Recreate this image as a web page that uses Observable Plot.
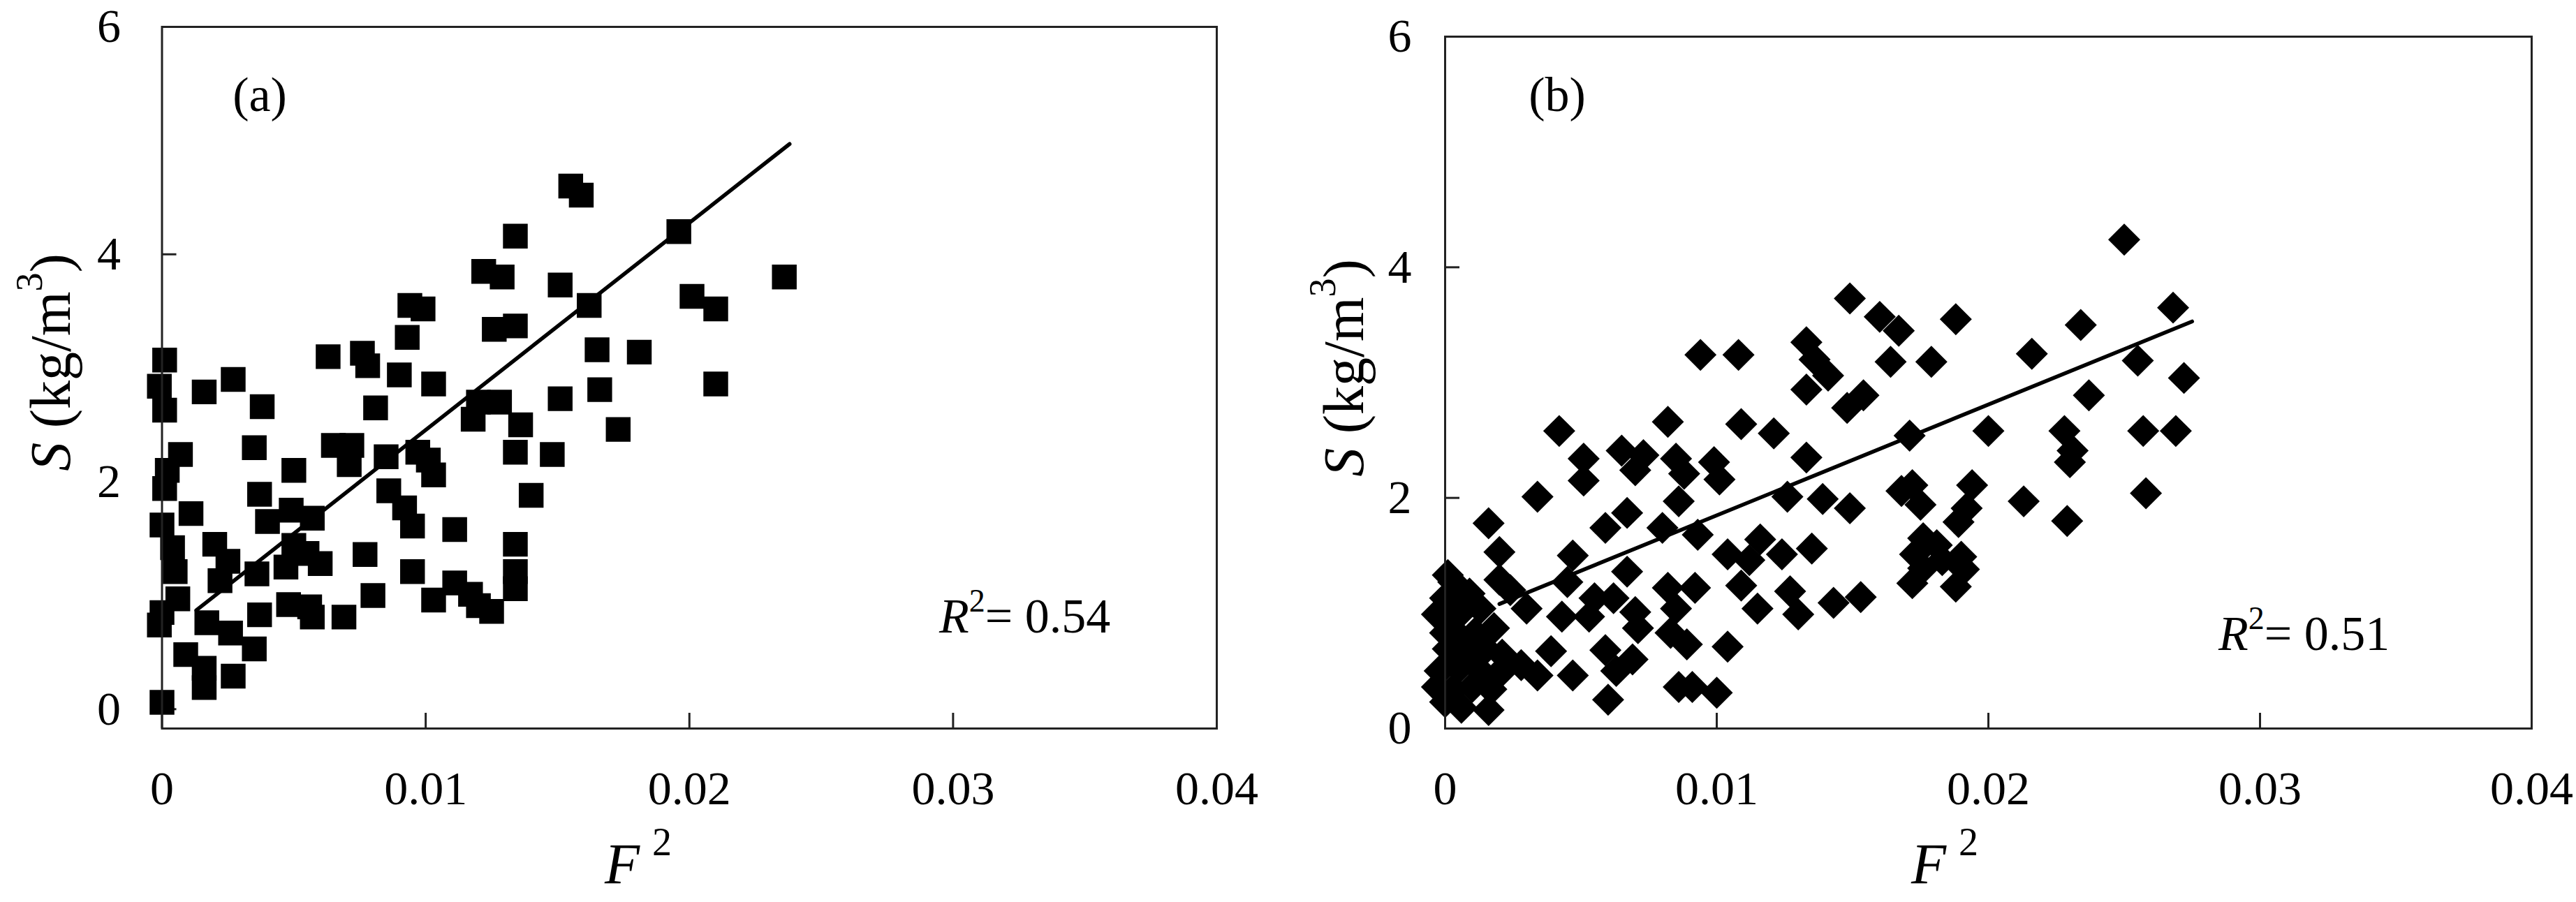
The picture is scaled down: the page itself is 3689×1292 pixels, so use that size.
<!DOCTYPE html>
<html><head><meta charset="utf-8">
<script src="https://cdn.jsdelivr.net/npm/d3@7"></script>
<script src="https://cdn.jsdelivr.net/npm/@observablehq/plot@0.6"></script>
<style>
html,body{margin:0;padding:0;background:#fff;}
#wrap{position:relative;width:3689px;height:1292px;background:#fff;}
#pa{position:absolute;left:0;top:0;}
#pb{position:absolute;left:1845px;top:0;}
svg text{font-family:"Liberation Serif","Times New Roman",serif;}
</style></head><body><div id="wrap"><div id="pa"></div><div id="pb"></div></div>
<script>
// ---------- data ----------
const xTicks = [0, 0.01, 0.02, 0.03, 0.04];
const yTicks = [0, 2, 4, 6];

// Panel (a): squares
const aF2 = [0.0001,-0.0001,0.0001,0.0016,0.0027,0.0038,0.0035,0.0050,0.0063,0.0076,
  0.0078,0.0090,0.0081,0.0094,0.0093,0.0065,0.0072,0.0071,0.0085,0.0086,
  0.0092,0.0097,0.0007,0.0002,0.0001,0.0037,0.0011,0.0000,0.0004,0.0005,
  0.0020,0.0025,0.0022,0.0049,0.0040,0.0057,0.0050,0.0055,0.0060,0.0036,
  0.0047,0.0077,0.0080,0.0095,0.0095,0.0006,0.0000,-0.0001,0.0017,0.0026,
  0.0035,0.0009,0.0016,0.0027,0.0016,0.0037,0.0048,0.0056,0.0057,0.0069,
  0.0000,0.0099,0.0103,0.0101,0.0103,0.0103,0.0111,0.0111,0.0117,0.0120,
  0.0125,0.0118,0.0120,0.0128,0.0122,0.0129,0.0126,0.0134,0.0134,0.0136,
  0.0134,0.0134,0.0134,0.0134,0.0140,0.0148,0.0151,0.0151,0.0155,0.0159,
  0.0162,0.0165,0.0166,0.0173,0.0181,0.0196,0.0201,0.0210,0.0210,0.0236];
const aS = [3.07,2.84,2.63,2.79,2.90,2.66,2.30,2.10,3.10,3.13,
  3.02,2.94,2.65,3.55,3.27,2.32,2.32,2.15,2.22,1.92,
  1.77,2.26,2.24,2.10,1.94,1.89,1.72,1.62,1.42,1.21,
  1.45,1.30,1.13,1.75,1.65,1.68,1.44,1.37,1.28,1.19,
  1.25,1.36,1.00,1.21,1.61,0.97,0.85,0.74,0.76,0.67,
  0.53,0.48,0.36,0.29,0.19,0.83,0.92,0.90,0.81,0.81,
  0.06,3.52,2.86,2.19,2.06,0.96,1.11,1.58,1.01,0.91,
  0.86,2.55,2.70,2.70,3.85,3.80,3.34,3.37,4.16,2.50,
  2.26,1.45,1.21,1.06,1.88,2.24,2.73,3.73,4.60,4.52,
  3.55,3.16,2.81,2.46,3.14,4.20,3.63,3.52,2.86,3.80];
const aFitF2 = [0.0013, 0.0238];
const aFitS = [0.87, 4.97];
const aR2 = 0.54;

// Panel (b): diamonds
const bF2 = [0.0034,0.0016,0.0020,0.0047,0.0059,0.0067,0.0086,0.0001,0.0020,0.0024,
  0.0030,0.0045,0.0055,0.0043,0.0062,0.0070,0.0053,0.0067,0.0080,0.0093,
  0.0082,0.0092,0.0085,0.0083,0.0089,0.0071,0.0059,0.0069,0.0063,0.0060,
  0.0047,0.0039,0.0034,0.0028,0.0086,0.0091,
  0.0000,0.0003,0.0009,-0.0003,0.0001,0.0006,0.0013,0.0018,0.0000,0.0005,
  0.0011,0.0001,0.0009,0.0015,0.0021,-0.0002,0.0005,0.0013,0.0019,-0.0003,
  0.0003,0.0010,0.0017,0.0000,0.0006,0.0016,0.0003,0.0021,
  0.0250,0.0149,0.0188,0.0268,0.0234,0.0160,0.0167,0.0094,0.0108,0.0133,
  0.0136,0.0133,0.0141,0.0164,0.0179,0.0216,0.0255,0.0272,0.0237,0.0148,
  0.0154,0.0082,0.0109,0.0121,0.0042,0.0200,0.0228,0.0257,0.0269,0.0171,
  0.0231,0.0230,0.0133,0.0065,0.0073,0.0070,0.0051,0.0051,0.0085,0.0088,
  0.0099,0.0101,0.0126,0.0139,0.0149,0.0168,0.0172,0.0175,0.0194,0.0213,
  0.0258,0.0229,0.0192,0.0189,0.0176,0.0181,0.0173,0.0183,0.0176,0.0190,
  0.0191,0.0188,0.0172,0.0116,0.0124,0.0135,0.0104,0.0112,0.0109,0.0115,
  0.0127,0.0130,0.0143,0.0153,0.0104,0.0100];
const bS = [2.01,1.78,1.53,1.50,1.74,1.87,1.97,1.33,1.29,1.20,
  1.04,1.27,1.13,0.97,1.13,1.01,0.97,1.36,1.74,1.68,
  1.22,1.22,1.04,0.83,0.73,0.87,0.68,0.60,0.50,0.25,
  0.46,0.67,0.46,0.55,0.36,0.36,
  1.13,1.15,1.17,0.99,0.97,1.01,1.04,0.87,0.83,0.81,
  0.83,0.69,0.67,0.69,0.64,0.50,0.52,0.50,0.46,0.36,
  0.34,0.36,0.34,0.23,0.18,0.16,1.27,0.50,
  4.24,3.73,3.55,3.65,3.50,3.57,3.45,3.24,3.24,3.35,
  3.20,2.94,3.06,3.18,3.18,3.25,3.19,3.04,2.89,2.78,
  2.89,2.66,2.64,2.56,2.58,2.58,2.58,2.58,2.58,2.54,
  2.41,2.31,2.35,2.41,2.37,2.24,2.34,2.15,2.34,2.21,
  2.31,2.16,2.01,1.99,1.91,2.06,2.11,1.94,2.11,1.97,
  2.04,1.80,1.91,1.79,1.65,1.59,1.51,1.46,1.39,1.49,
  1.38,1.23,1.26,1.64,1.51,1.56,1.51,1.46,1.24,1.04,
  1.19,0.99,1.09,1.14,0.71,0.31];
const bFitF2 = [0.0020, 0.0275];
const bFitS = [1.08, 3.53];
const bR2 = 0.51;

// ---------- drawing ----------
const FONT = '"Liberation Serif","Times New Roman",serif';

function panel(o) {
  const pts = o.F2.map((f, i) => ({f, s: o.S[i]}));
  const fit = o.fitF2.map((f, i) => ({f, s: o.fitS[i]}));
  const svg = Plot.plot({
    width: o.width, height: 1292,
    marginLeft: o.ml, marginRight: o.mr, marginTop: o.mt, marginBottom: 249,
    x: {domain: [0, 0.04], label: null},
    y: {domain: o.yDomain, label: null},
    style: {fontFamily: FONT, background: "white", color: "black", overflow: "visible"},
    marks: [
      Plot.axisX(xTicks, {tickSize: -22, tickPadding: 82, fontSize: 68, strokeWidth: 3, stroke: "#222",
        tickFormat: d => d === 0 ? "0" : d3.format(".2f")(d), label: null}),
      Plot.axisY(yTicks, {tickSize: -21, tickPadding: 21 + o.ygap, fontSize: 68, strokeWidth: 3, stroke: "#222",
        tickFormat: d => String(d), label: null}),
      Plot.line(fit, {x: "f", y: "s", stroke: "black", strokeWidth: 5.5}),
      Plot.dot(pts, {x: "f", y: "s", symbol: o.symbol, r: o.r, fill: "black", stroke: "none"}),
      Plot.frame({stroke: "#222", strokeWidth: 3})
    ]
  });
  const g = d3.select(svg);
  // y-axis title
  const yl = g.append("text")
    .attr("transform", `translate(${o.ylx},${o.yly}) rotate(-90)`)
    .attr("text-anchor", "middle").attr("dominant-baseline", "central")
    .attr("font-size", 82).attr("fill", "black").style("font-family", FONT);
  yl.append("tspan").attr("font-style", "italic").text("S");
  yl.append("tspan").text(" (kg/m");
  yl.append("tspan").attr("font-size", 54).attr("dy", -30).text("3");
  yl.append("tspan").attr("dy", 30).text(")");
  // x-axis title
  const xl = g.append("text")
    .attr("x", o.xlx).attr("y", 1265).attr("text-anchor", "middle")
    .attr("font-size", 82).attr("fill", "black").style("font-family", FONT);
  xl.append("tspan").attr("font-style", "italic").text("F");
  xl.append("tspan").attr("font-size", 56).attr("dx", 18).attr("dy", -40).text("2");
  // panel tag
  g.append("text").attr("x", o.tagx).attr("y", 159).attr("text-anchor", "middle")
    .attr("font-size", 70).attr("fill", "black").style("font-family", FONT).text(o.tag);
  // R²
  const rt = g.append("text").attr("x", o.rx).attr("y", o.ry).attr("text-anchor", "start")
    .attr("font-size", 70).attr("fill", "black").style("font-family", FONT);
  rt.append("tspan").attr("font-style", "italic").text("R");
  rt.append("tspan").attr("font-size", 46).attr("dy", -30).text("2");
  rt.append("tspan").attr("dy", 30).text("= " + o.r2.toFixed(2));
  return svg;
}

document.getElementById("pa").appendChild(panel({
  F2: aF2, S: aS, fitF2: aFitF2, fitS: aFitS, r2: aR2,
  width: 1845, ml: 231.5, mr: 103, mt: 38, yDomain: [-0.17, 6],
  ygap: 59, symbol: "square", r: 20,
  ylx: 72, yly: 519, xlx: 914, tagx: 372, tag: "(a)", rx: 1345, ry: 906
}));
document.getElementById("pb").appendChild(panel({
  F2: bF2, S: bS, fitF2: bFitF2, fitS: bFitS, r2: bR2,
  width: 1844, ml: 224, mr: 64, mt: 52, yDomain: [0, 6],
  ygap: 48, symbol: "diamond2", r: 20.7,
  ylx: 79, yly: 527, xlx: 940, tagx: 385, tag: "(b)", rx: 1332, ry: 931
}));
</script>
</body></html>
